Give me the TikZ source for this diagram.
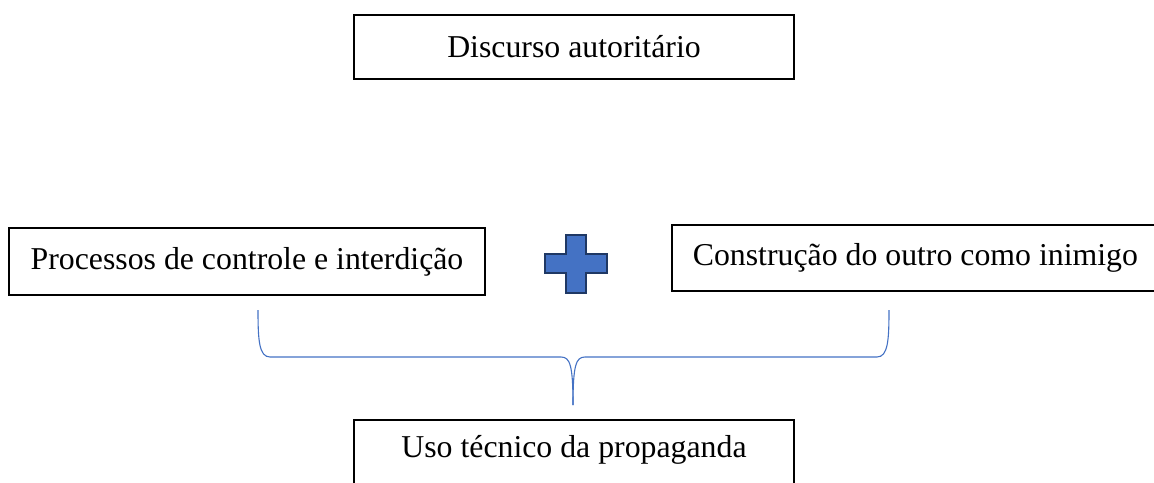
\documentclass[tikz,border=0pt]{standalone}
\usepackage{fontspec}
\setmainfont{Liberation Serif}
\definecolor{plusfill}{HTML}{4472C4}
\definecolor{plusdraw}{HTML}{1F3864}
\definecolor{bracecol}{HTML}{4472C4}
\begin{document}
\begin{tikzpicture}[x=1pt,y=-1pt,
  box/.style={draw=black,line width=1.6pt,rectangle,inner sep=0pt,
    font=\fontsize{31.8}{38}\selectfont},
  bracestyle/.style={draw=bracecol,line width=1.1pt}]
\useasboundingbox (0,0) rectangle (1154,482);
\clip (0,0) rectangle (1154,482);
\node[box,minimum width=440pt,minimum height=64pt] (top) at (574,47) {Discurso autoritário};
\node[box,minimum width=476pt,minimum height=67pt] (left) at (247,261.5) {Processos de controle e interdição};
\node[box,anchor=west,minimum height=66pt,inner xsep=21pt] (right) at (671,258) {\makebox[470pt][l]{Construção do outro como inimigo}};
\node[box,minimum width=440pt,minimum height=80pt,anchor=north] (bottom) at (574,419) {};
\node[font=\fontsize{31.8}{38}\selectfont,inner sep=0pt] (btext) at (574,450) {Uso técnico da propaganda};
% plus sign
\draw[fill=plusfill,draw=plusdraw,line width=2.2pt,line join=miter]
  (566,235) -- (586,235) -- (586,254) -- (607,254) -- (607,273) -- (586,273)
  -- (586,293) -- (566,293) -- (566,273) -- (545,273) -- (545,254) -- (566,254) -- cycle;
% brace
\coordinate (bl) at (258,310);
\coordinate (br) at (889,310);
\coordinate (bt) at (573,405);
\draw[bracestyle] (bl) .. controls (258,340) and (259,357) .. (270,357)
  -- (561,357) .. controls (570,357) and (573,365) .. (bt);
\draw[bracestyle] (br) .. controls (889,340) and (888,357) .. (877,357)
  -- (585,357) .. controls (576,357) and (573,365) .. (bt);
\end{tikzpicture}
\end{document}
